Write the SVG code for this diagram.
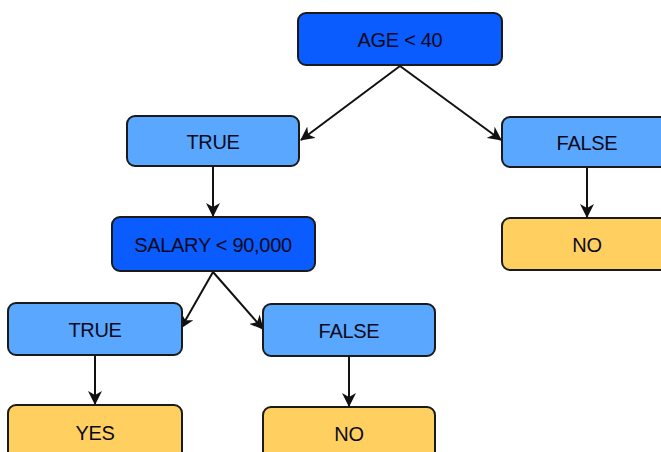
<svg xmlns="http://www.w3.org/2000/svg" width="661" height="452" viewBox="0 0 661 452">
  <style>
    .box { stroke: #1a1a1a; stroke-width: 2; }
    .cond { fill: #0b5cff; }
    .branch { fill: #5aa7ff; }
    .leaf { fill: #ffd060; }
    .lbl { font-family: "Liberation Sans", Arial, sans-serif; font-size: 20px; fill: #0a0a1a; text-anchor: middle; dominant-baseline: central; letter-spacing: -0.3px; }
    .edge { stroke: #111; stroke-width: 2; fill: none; marker-end: url(#arrow); }
  </style>
  <defs>
    <marker id="arrow" viewBox="0 0 14 14" refX="13" refY="7" markerWidth="14" markerHeight="14" markerUnits="userSpaceOnUse" orient="auto">
      <path d="M0,0 L14,7 L0,14 L4,7 Z" fill="#111"/>
    </marker>
  </defs>
  <rect width="661" height="452" fill="#ffffff"/>

  <g id="connectors">
    <line class="edge" x1="400" y1="66" x2="301" y2="140"/>
    <line class="edge" x1="400" y1="66" x2="501" y2="140"/>
    <line class="edge" x1="213" y1="167" x2="213" y2="216"/>
    <line class="edge" x1="587" y1="167" x2="587" y2="217"/>
    <line class="edge" x1="213" y1="272" x2="181" y2="328"/>
    <line class="edge" x1="213" y1="272" x2="263" y2="329"/>
    <line class="edge" x1="95" y1="355" x2="95" y2="404"/>
    <line class="edge" x1="349" y1="356" x2="349" y2="406"/>
  </g>

  <g id="age">
    <rect class="box cond" x="298" y="13" width="204" height="52" rx="8"/>
    <text class="lbl" x="400" y="40">AGE &lt; 40</text>
  </g>
  <g id="age-true">
    <rect class="box branch" x="127" y="116" width="172" height="50" rx="8"/>
    <text class="lbl" x="213" y="142">TRUE</text>
  </g>
  <g id="age-false">
    <rect class="box branch" x="502" y="117" width="170" height="50" rx="8"/>
    <text class="lbl" x="587" y="143">FALSE</text>
  </g>
  <g id="age-false-no">
    <rect class="box leaf" x="502" y="218" width="170" height="52" rx="8"/>
    <text class="lbl" x="587" y="245">NO</text>
  </g>
  <g id="salary">
    <rect class="box cond" x="112" y="217" width="203" height="54" rx="8"/>
    <text class="lbl" x="213" y="245">SALARY &lt; 90,000</text>
  </g>
  <g id="salary-true">
    <rect class="box branch" x="8" y="303" width="174" height="52" rx="8"/>
    <text class="lbl" x="95" y="330">TRUE</text>
  </g>
  <g id="salary-false">
    <rect class="box branch" x="263" y="304" width="172" height="52" rx="8"/>
    <text class="lbl" x="349" y="331">FALSE</text>
  </g>
  <g id="salary-true-yes">
    <rect class="box leaf" x="8" y="405" width="174" height="60" rx="8"/>
    <text class="lbl" x="95" y="433">YES</text>
  </g>
  <g id="salary-false-no">
    <rect class="box leaf" x="263" y="407" width="172" height="60" rx="8"/>
    <text class="lbl" x="349" y="434">NO</text>
  </g>
</svg>
